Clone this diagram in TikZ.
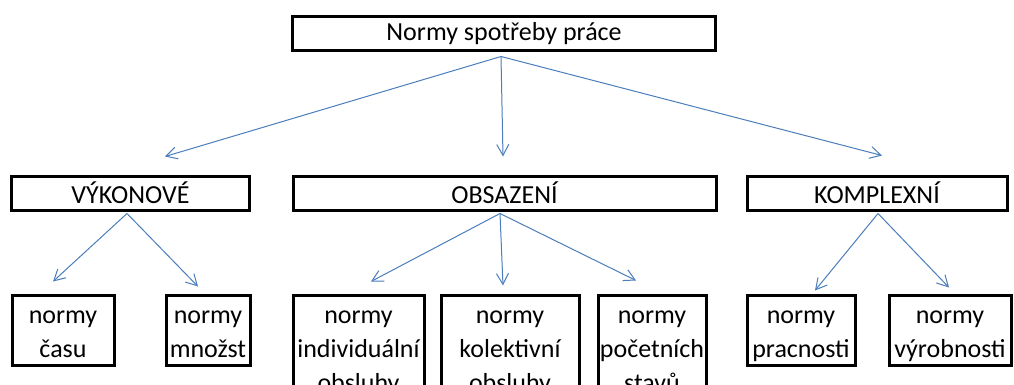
\documentclass[tikz,border=0pt]{standalone}
\usepackage{fontspec}
\setmainfont{Carlito}
\usetikzlibrary{arrows.meta}
\definecolor{arrowblue}{HTML}{4A7EBB}
\newcommand\topln{\rule{0pt}{28pt}}
\newcommand\botln{\rule[-8pt]{0pt}{8pt}}
\tikzset{
    box/.style ={rectangle, draw, line width=3pt, inner sep=0pt, align=center,
                 font=\fontsize{26}{34}\selectfont},
    arr/.style ={arrowblue, line width=1pt, -{Straight Barb[length=11pt,width=12pt]}}
}

\begin{document}
\begin{tikzpicture}[x=1pt, y=-1pt]
      \useasboundingbox (0,0) rectangle (1014,385);
      \clip (0,0) rectangle (1014,385);

      \node[box, minimum width=423pt, minimum height=34pt] (norms) at (504,34) {Normy spotřeby práce};

      \node[box, minimum width=238pt, minimum height=34pt] (vyk) at (130.5,193) {VÝKONOVÉ};
      \node[box, minimum width=423pt, minimum height=34pt] (obs) at (504.5,193) {OBSAZENÍ};
      \node[box, minimum width=260pt, minimum height=34pt] (kom) at (877,193) {KOMPLEXNÍ};

      \node[box, minimum width=102pt] (cas) at (63,330) {\topln normy\\času\botln};
      \node[box, minimum width=84pt] (mnoz) at (208,330) {\topln normy\\množst\botln};
      \node[box, minimum width=131pt] (ind) at (358.5,347) {\topln normy\\individuální\\obsluhy\botln};
      \node[box, minimum width=138pt] (kol) at (510,347) {\topln normy\\kolektivní\\obsluhy\botln};
      \node[box, minimum width=108pt] (poc) at (652,347) {\topln normy\\početních\\stavů\botln};
      \node[box, minimum width=108pt] (prac) at (801,330) {\topln normy\\pracnosti\botln};
      \node[box, minimum width=122pt] (vyr) at (950,330) {\topln normy\\výrobnosti\botln};

      % top level
      \path[arr] ([shift={(-3,4)}]norms.south) edge ([shift={(34.5,-18)}]vyk.north);
      \path[arr] ([shift={(-3,4)}]norms.south) edge ([shift={(-1.5,-18)}]obs.north);
      \path[arr] ([shift={(-3,4)}]norms.south) edge ([shift={(5,-19)}]kom.north);

      % second level
      \path[arr] ([shift={(-3.5,2)}]vyk.south) edge ([shift={(-10,-12)}]cas.north);
      \path[arr] ([shift={(-3.5,2)}]vyk.south) edge ([shift={(-10,-7)}]mnoz.north);
      \path[arr] ([shift={(-4.5,2)}]obs.south) edge ([shift={(12.5,-12)}]ind.north);
      \path[arr] ([shift={(-4.5,2)}]obs.south) edge ([shift={(-7,-8)}]kol.north);
      \path[arr] ([shift={(-4.5,2)}]obs.south) edge ([shift={(-16,-13)}]poc.north);
      \path[arr] ([shift={(1,2)}]kom.south) edge ([shift={(14,-3)}]prac.north);
      \path[arr] ([shift={(1,2)}]kom.south) edge ([shift={(-1,-6)}]vyr.north);
\end{tikzpicture}
\end{document}
